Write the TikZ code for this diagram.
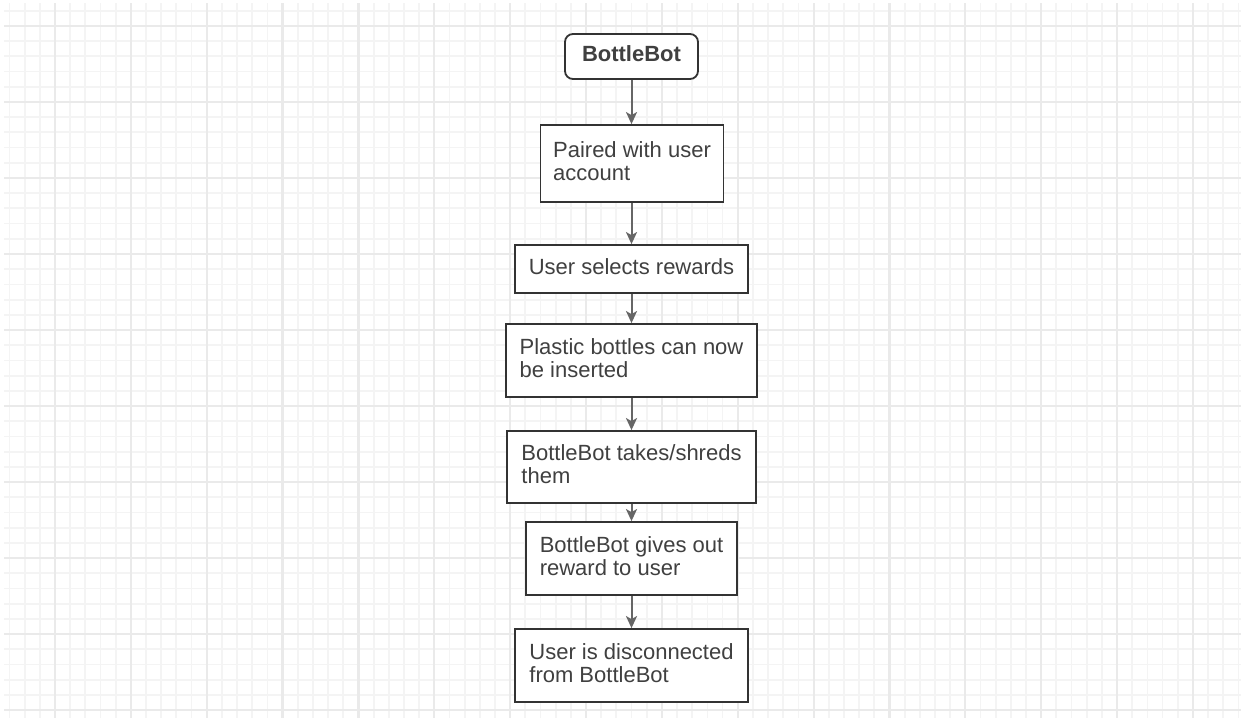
\documentclass[tikz,border=0pt]{standalone}
\usepackage{fontspec}
\setmainfont{Liberation Sans}
\usetikzlibrary{arrows.meta}
\definecolor{gridminor}{RGB}{244,244,244}
\definecolor{gridmajor}{RGB}{234,234,234}
\definecolor{boxline}{RGB}{51,51,51}
\definecolor{txt}{RGB}{64,64,64}
\definecolor{arr}{RGB}{102,102,102}
\tikzset{
  stepbox/.style={draw=boxline, line width=1.8pt, fill=white, inner sep=0pt, align=left,
    text=txt, font=\fontsize{22}{23}\selectfont,
    execute at end node={\rule[-5pt]{0pt}{0pt}}},
  startbox/.style={stepbox, rounded corners=8pt, font=\fontsize{22}{23}\selectfont\bfseries},
  flow/.style={draw=arr, line width=2pt, -{Stealth[length=12pt,width=11pt,inset=3pt]}}
}
\begin{document}
\begin{tikzpicture}[x=1pt,y=-1pt]
\useasboundingbox (0,0) rectangle (1241,719);
\fill[white] (0,0) rectangle (1241,719);
\begin{scope}
\clip (4,4) rectangle (1241,717);
\foreach \i in {0,...,81} {
  \pgfmathsetmacro{\xx}{9.5+15.172*\i}
  \draw[gridminor, line width=1.8pt] (\xx,0) -- (\xx,719);
}
\foreach \j in {0,...,46} {
  \pgfmathsetmacro{\yy}{10.8+15.2*\j}
  \draw[gridminor, line width=1.8pt] (0,\yy) -- (1241,\yy);
}
\foreach \k in {0,...,15} {
  \pgfmathsetmacro{\xx}{55+75.86*\k}
  \draw[gridmajor, line width=2.2pt] (\xx,0) -- (\xx,719);
}
\foreach \k in {0,...,9} {
  \pgfmathsetmacro{\yy}{26+76*\k}
  \draw[gridmajor, line width=2.2pt] (0,\yy) -- (1241,\yy);
}
\end{scope}

\node[startbox, minimum width=133pt, minimum height=45pt] (b1) at (631.5,56.5) {BottleBot};
\node[stepbox, minimum width=183pt, minimum height=77pt] (b2) at (632,163.5) {Paired with user\\account};
\node[stepbox, minimum width=233pt, minimum height=48pt] (b3) at (631.5,269) {User selects rewards};
\node[stepbox, minimum width=251pt, minimum height=73pt] (b4) at (631.5,360.5) {Plastic bottles can now\\be inserted};
\node[stepbox, minimum width=249pt, minimum height=72pt] (b5) at (631.5,467) {BottleBot takes/shreds\\them};
\node[stepbox, minimum width=211pt, minimum height=73pt] (b6) at (631.5,558.5) {BottleBot gives out\\reward to user};
\node[stepbox, minimum width=233pt, minimum height=73pt] (b7) at (631.5,665.5) {User is disconnected\\from BottleBot};

\draw[flow] (b1.south) -- (b1.south |- b2.north);
\draw[flow] (b2.south -| b3.north) -- (b3.north);
\draw[flow] (b3) -- (b4);
\draw[flow] (b4) -- (b5);
\draw[flow] (b5) -- (b6);
\draw[flow] (b6) -- (b7);
\end{tikzpicture}
\end{document}
